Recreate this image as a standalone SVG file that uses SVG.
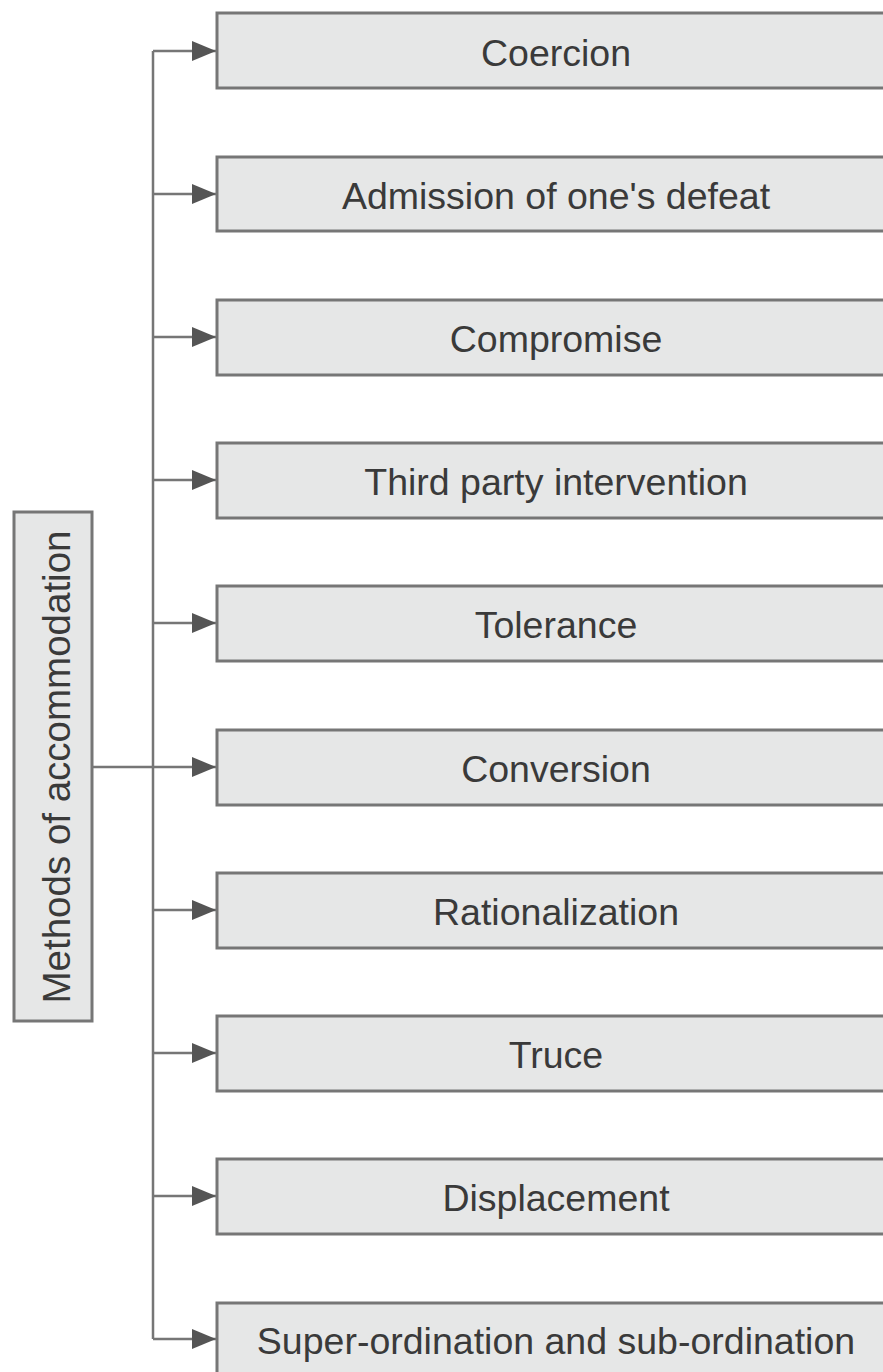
<svg xmlns="http://www.w3.org/2000/svg" width="883" height="1372" viewBox="0 0 883 1372">
  <style>
    .box { fill: #e6e7e7; stroke: #767676; stroke-width: 3; }
    .lbl { font-family: "Liberation Sans", Arial, sans-serif; font-size: 37.5px; fill: #3a3a3a; text-anchor: middle; }
    .wire { fill: none; stroke: #767676; stroke-width: 2.5; }
  </style>
  <defs>
    <marker id="arrow" markerUnits="userSpaceOnUse" markerWidth="26" markerHeight="22" refX="24" refY="11" orient="auto">
      <path d="M0,1 L24,11 L0,21 Z" fill="#555"/>
    </marker>
  </defs>
  <rect width="883" height="1372" fill="#fff"/>

  <g id="connectors">
    <path class="wire" d="M153,51 V1339"/>
    <path class="wire" d="M92,767 H153"/>
    <path class="wire" marker-end="url(#arrow)" d="M153,51 H216"/>
    <path class="wire" marker-end="url(#arrow)" d="M153,194 H216"/>
    <path class="wire" marker-end="url(#arrow)" d="M153,337 H216"/>
    <path class="wire" marker-end="url(#arrow)" d="M153,480 H216"/>
    <path class="wire" marker-end="url(#arrow)" d="M153,623 H216"/>
    <path class="wire" marker-end="url(#arrow)" d="M153,767 H216"/>
    <path class="wire" marker-end="url(#arrow)" d="M153,910 H216"/>
    <path class="wire" marker-end="url(#arrow)" d="M153,1053 H216"/>
    <path class="wire" marker-end="url(#arrow)" d="M153,1196 H216"/>
    <path class="wire" marker-end="url(#arrow)" d="M153,1339 H216"/>
  </g>

  <g id="root">
    <rect class="box" x="14" y="512" width="78" height="509"/>
    <text class="lbl" style="font-size:38.5px" transform="translate(70,767) rotate(-90)">Methods of accommodation</text>
  </g>

  <g id="n1"><rect class="box" x="217" y="13" width="680" height="75"/><text class="lbl" x="556" y="66">Coercion</text></g>
  <g id="n2"><rect class="box" x="217" y="157" width="680" height="74"/><text class="lbl" x="556" y="209">Admission of one's defeat</text></g>
  <g id="n3"><rect class="box" x="217" y="300" width="680" height="75"/><text class="lbl" x="556" y="352">Compromise</text></g>
  <g id="n4"><rect class="box" x="217" y="443" width="680" height="75"/><text class="lbl" x="556" y="495">Third party intervention</text></g>
  <g id="n5"><rect class="box" x="217" y="586" width="680" height="75"/><text class="lbl" x="556" y="638">Tolerance</text></g>
  <g id="n6"><rect class="box" x="217" y="730" width="680" height="75"/><text class="lbl" x="556" y="782">Conversion</text></g>
  <g id="n7"><rect class="box" x="217" y="873" width="680" height="75"/><text class="lbl" x="556" y="925">Rationalization</text></g>
  <g id="n8"><rect class="box" x="217" y="1016" width="680" height="75"/><text class="lbl" x="556" y="1068">Truce</text></g>
  <g id="n9"><rect class="box" x="217" y="1159" width="680" height="75"/><text class="lbl" x="556" y="1211">Displacement</text></g>
  <g id="n10"><rect class="box" x="217" y="1303" width="680" height="80"/><text class="lbl" x="556" y="1354">Super-ordination and sub-ordination</text></g>
</svg>
